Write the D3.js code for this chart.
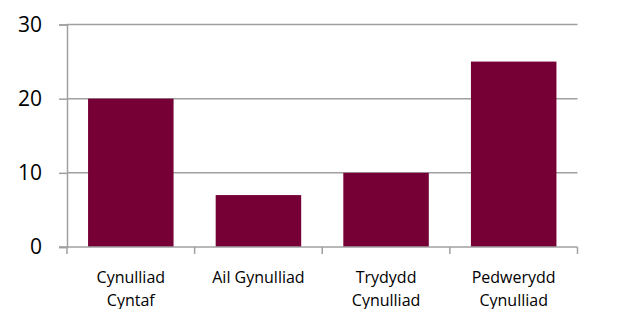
<!DOCTYPE html>
<html>
<head>
<meta charset="utf-8">
<script src="https://cdn.jsdelivr.net/npm/d3@7"></script>
<style>
  body { margin: 0; background: #fff; }
  svg { display: block; }
</style>
</head>
<body>
<svg></svg>
<script>
// data
const categories = [["Cynulliad", "Cyntaf"], ["Ail Gynulliad"], ["Trydydd", "Cynulliad"], ["Pedwerydd", "Cynulliad"]];
const values = [20, 7, 10, 25];
const yTicks = [0, 10, 20, 30];

const w = 631;
const h = 309;
const plotLeft = 67, plotRight = 577.5, plotTop = 24.5, plotBottom = 247;

const svg = d3.select("svg").attr("width", w).attr("height", h);

const xScale = d3.scaleBand()
  .domain(d3.range(categories.length))
  .range([plotLeft, plotRight]);
const yScale = d3.scaleLinear()
  .domain([0, 30])
  .range([plotBottom, plotTop]);

// gridlines
svg.append("g")
  .selectAll("line")
  .data(yTicks.filter(d => d > 0))
  .enter()
  .append("line")
  .attr("x1", plotLeft)
  .attr("x2", plotRight)
  .attr("y1", d => yScale(d))
  .attr("y2", d => yScale(d))
  .attr("stroke", "#a0a0a0")
  .attr("stroke-width", 1.5);

// bars
const barPad = 0.165;
svg.selectAll("rect.bar")
  .data(values)
  .enter()
  .append("rect")
  .attr("class", "bar")
  .attr("x", (d, i) => xScale(i) + xScale.bandwidth() * barPad)
  .attr("width", xScale.bandwidth() * (1 - 2 * barPad))
  .attr("y", d => yScale(d))
  .attr("height", d => plotBottom - yScale(d))
  .attr("fill", "#760036");

// y axis
const yAxis = d3.axisLeft(yScale).tickValues(yTicks).tickSize(8).tickPadding(17);
const gy = svg.append("g")
  .attr("transform", "translate(" + plotLeft + ",0)")
  .call(yAxis);
gy.select(".domain").attr("stroke", "#a0a0a0").attr("stroke-width", 1.5);
gy.selectAll(".tick line").attr("stroke", "#a0a0a0").attr("stroke-width", 1.5);
gy.selectAll(".tick text")
  .attr("font-family", "'Open Sans', sans-serif")
  .attr("font-size", 21)
  .attr("fill", "#000");

// x axis
const gx = svg.append("g")
  .attr("transform", "translate(0," + plotBottom + ")");
gx.append("line")
  .attr("x1", plotLeft - 8).attr("x2", plotRight)
  .attr("stroke", "#a0a0a0").attr("stroke-width", 1.5);
gx.selectAll("line.tick")
  .data(d3.range(categories.length + 1))
  .enter()
  .append("line")
  .attr("class", "tick")
  .attr("x1", i => i < categories.length ? xScale(i) : plotRight)
  .attr("x2", i => i < categories.length ? xScale(i) : plotRight)
  .attr("y1", 0).attr("y2", 7)
  .attr("stroke", "#a0a0a0").attr("stroke-width", 1.5);

const labels = gx.selectAll("text")
  .data(categories)
  .enter()
  .append("text")
  .attr("text-anchor", "middle")
  .attr("font-family", "'Open Sans', sans-serif")
  .attr("font-size", 16)
  .attr("fill", "#000");
labels.selectAll("tspan")
  .data((d, i) => d.map(t => ({ t, i })))
  .enter()
  .append("tspan")
  .attr("x", d => xScale(d.i) + xScale.bandwidth() / 2)
  .attr("y", (d, j) => 36 + j * 23)
  .text(d => d.t);
</script>
</body>
</html>
